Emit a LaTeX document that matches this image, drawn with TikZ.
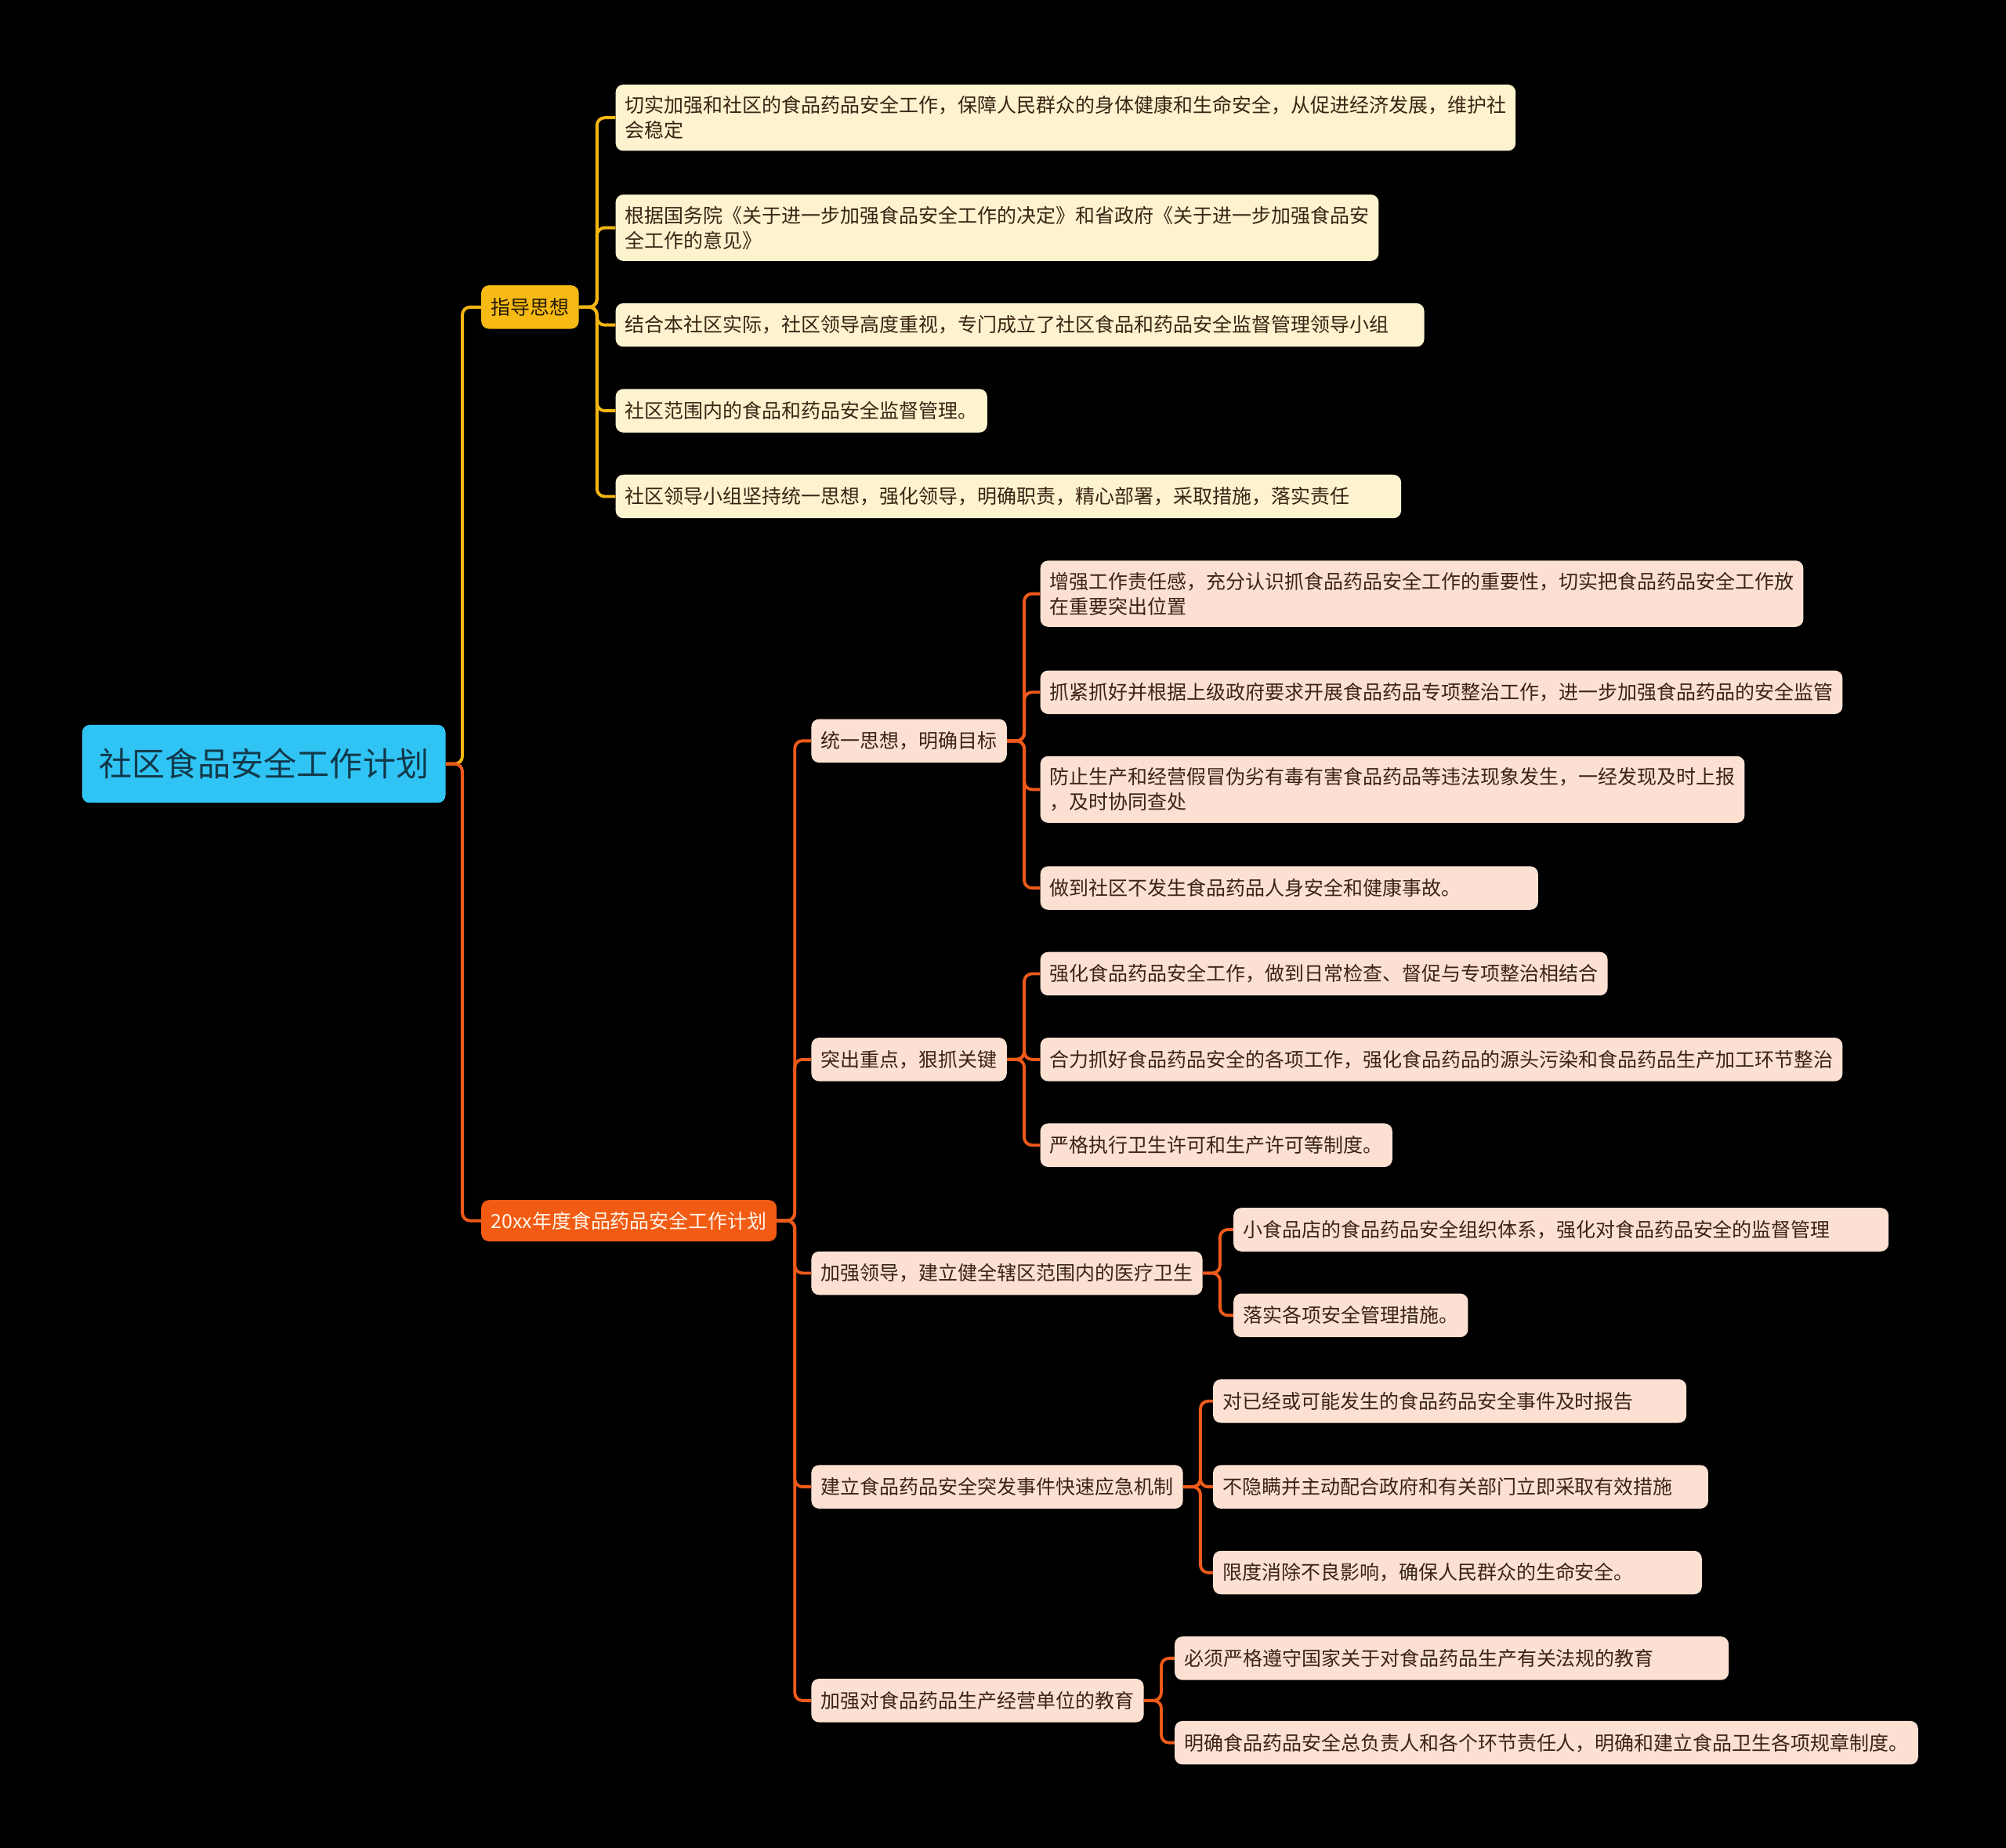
\documentclass[tikz,border=0pt]{standalone}
\usepackage{fontspec}
\newfontfamily\cjk{Noto Sans CJK SC}
\definecolor{rootfill}{HTML}{30C4F5}
\definecolor{roottext}{HTML}{12394A}
\definecolor{guidefill}{HTML}{F7BA14}
\definecolor{guideline}{HTML}{F3B612}
\definecolor{creamfill}{HTML}{FDF3CF}
\definecolor{planfill}{HTML}{F25B13}
\definecolor{planline}{HTML}{EE5A1A}
\definecolor{peachfill}{HTML}{FCE1D2}
\definecolor{leaftext}{HTML}{3A2414}

\tikzset{
  box/.style={anchor=west, rounded corners=6bp, align=left, inner xsep=7.5bp, inner ysep=9bp,
    minimum height=34bp, text=leaftext, font=\cjk\fontsize{15.3bp}{19.5bp}\selectfont},
  rootbox/.style={box, fill=rootfill, text=roottext, inner xsep=13bp, minimum height=61bp,
    font=\cjk\fontsize{25.8bp}{30bp}\selectfont},
  guidebox/.style={box, fill=guidefill, text=black!85!guidefill},
  planbox/.style={box, fill=planfill, text=white!92!orange, minimum height=32bp},
  creambox/.style={box, fill=creamfill},
  peachbox/.style={box, fill=peachfill},
  ylink/.style={draw=guideline, line width=2.4bp, rounded corners=6bp},
  olink/.style={draw=planline, line width=2.4bp, rounded corners=6bp}
}

\begin{document}
\begin{tikzpicture}[x=1bp, y=-1bp]
\fill[black] (0,0) rectangle (1568,1444);

% root and main topics
\node[rootbox] (root) at (64,597) {社区食品安全工作计划};
\node[guidebox] (guide) at (376,240) {指导思想};
\node[planbox] (plan) at (376,954) {20xx年度食品药品安全工作计划};

% 指导思想
\node[creambox] (g1) at (481,92) {切实加强和社区的食品药品安全工作，保障人民群众的身体健康和生命安全，从促进经济发展，维护社\\会稳定};
\node[creambox] (g2) at (481,178) {根据国务院《关于进一步加强食品安全工作的决定》和省政府《关于进一步加强食品安\\全工作的意见》};
\node[creambox, text width=617bp] (g3) at (481,254) {结合本社区实际，社区领导高度重视，专门成立了社区食品和药品安全监督管理领导小组};
\node[creambox] (g4) at (481,321) {社区范围内的食品和药品安全监督管理。};
\node[creambox, text width=599bp] (g5) at (481,388) {社区领导小组坚持统一思想，强化领导，明确职责，精心部署，采取措施，落实责任};

% 工作计划
\node[peachbox] (pa) at (634,579) {统一思想，明确目标};
\node[peachbox] (pb) at (634,828) {突出重点，狠抓关键};
\node[peachbox] (pc) at (634,995) {加强领导，建立健全辖区范围内的医疗卫生};
\node[peachbox] (pd) at (634,1162) {建立食品药品安全突发事件快速应急机制};
\node[peachbox] (pe) at (634,1329) {加强对食品药品生产经营单位的教育};

\node[peachbox] (pa1) at (813,464) {增强工作责任感，充分认识抓食品药品安全工作的重要性，切实把食品药品安全工作放\\在重要突出位置};
\node[peachbox] (pa2) at (813,541) {抓紧抓好并根据上级政府要求开展食品药品专项整治工作，进一步加强食品药品的安全监管};
\node[peachbox] (pa3) at (813,617) {防止生产和经营假冒伪劣有毒有害食品药品等违法现象发生，一经发现及时上报\\，及时协同查处};
\node[peachbox, text width=374bp] (pa4) at (813,694) {做到社区不发生食品药品人身安全和健康事故。};

\node[peachbox] (pb1) at (813,761) {强化食品药品安全工作，做到日常检查、督促与专项整治相结合};
\node[peachbox] (pb2) at (813,828) {合力抓好食品药品安全的各项工作，强化食品药品的源头污染和食品药品生产加工环节整治};
\node[peachbox] (pb3) at (813,895) {严格执行卫生许可和生产许可等制度。};

\node[peachbox, text width=497bp] (pc1) at (964,961) {小食品店的食品药品安全组织体系，强化对食品药品安全的监督管理};
\node[peachbox] (pc2) at (964,1028) {落实各项安全管理措施。};

\node[peachbox, text width=355bp] (pd1) at (948,1095) {对已经或可能发生的食品药品安全事件及时报告};
\node[peachbox, text width=372bp] (pd2) at (948,1162) {不隐瞒并主动配合政府和有关部门立即采取有效措施};
\node[peachbox, text width=367bp] (pd3) at (948,1229) {限度消除不良影响，确保人民群众的生命安全。};

\node[peachbox, text width=418bp] (pe1) at (918,1296) {必须严格遵守国家关于对食品药品生产有关法规的教育};
\node[peachbox] (pe2) at (918,1362) {明确食品药品安全总负责人和各个环节责任人，明确和建立食品卫生各项规章制度。};

% connectors
\draw[ylink] (root.east) -- ++(13,0) |- (guide.west);
\draw[olink] (root.east) -- ++(13,0) |- (plan.west);
\foreach \c in {g1,g2,g3,g4,g5}
  \draw[ylink] (guide.east) -- ++(14,0) |- (\c.west);
\foreach \c in {pa,pb,pc,pd,pe}
  \draw[olink] (plan.east) -- ++(14,0) |- (\c.west);
\foreach \p/\c in {pa/pa1,pa/pa2,pa/pa3,pa/pa4,pb/pb1,pb/pb2,pb/pb3,pc/pc1,pc/pc2,pd/pd1,pd/pd2,pd/pd3,pe/pe1,pe/pe2}
  \draw[olink] (\p.east) -- ++(13.5,0) |- (\c.west);

\end{tikzpicture}
\end{document}
